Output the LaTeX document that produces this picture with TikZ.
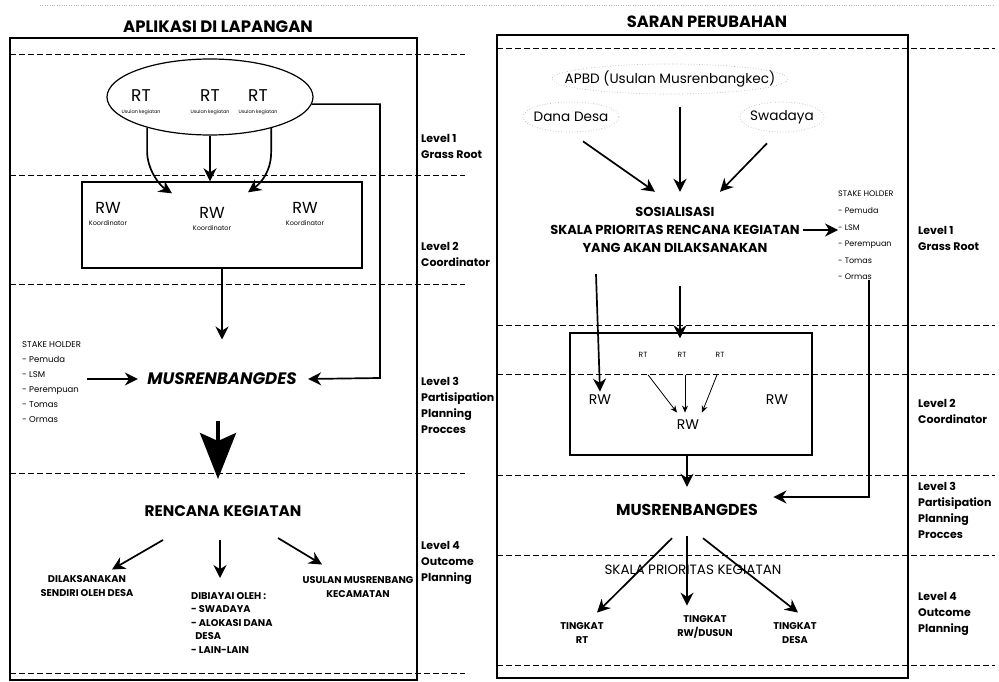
\documentclass[tikz,border=0pt]{standalone}
\usepackage{fontspec}
\setmainfont{Poppins}
\usepackage{tikz}
\usetikzlibrary{calc}
\usetikzlibrary{arrows.meta}
\usetikzlibrary{shapes.geometric}
\tikzset{
  arr/.style={line width=1.7pt, -{Stealth[length=13pt,width=13pt]}},
  thinarr/.style={line width=0.8pt, -{Stealth[length=7pt,width=6pt]}},
  bigarr/.style={line width=3.5pt, -{Stealth[length=46pt,width=36pt,inset=8pt]}},
  dashline/.style={dash pattern=on 6pt off 3pt, line width=0.8pt},
  faint/.style={draw=gray!55, dotted, line width=0.7pt},
  lvl/.style={anchor=north west, align=left, inner sep=0, font=\fontsize{11}{16}\selectfont\bfseries},
  stake/.style={anchor=north west, align=left, inner sep=0, font=\fontsize{8.5}{15}\selectfont},
  outc/.style={align=center, inner sep=1pt, font=\fontsize{9.8}{13.5}\selectfont\bfseries},
}

\begin{document}
\begin{tikzpicture}[x=1pt, y=-1pt]
\useasboundingbox (0,0) rectangle (999,682);
\draw[gray!60, dotted] (40,5) -- (995,5);

\node[font=\fontsize{16.5}{18}\selectfont\bfseries] (titleL) at (218,27) {APLIKASI DI LAPANGAN};
\draw[line width=1.8pt] (10,38) rectangle (417,680);
\foreach \y in {54,175,284,473,673}
  \draw[dashline] (10,\y) -- (465,\y);

\node[lvl] (lvlL1) at (421,134) {Level 1\\Grass Root};
\node[lvl] (lvlL2) at (421,242) {Level 2\\Coordinator};
\node[lvl] (lvlL3) at (421,377) {Level 3\\Partisipation\\Planning\\Procces};
\node[lvl] (lvlL4) at (421,541) {Level 4\\Outcome\\Planning};

\node[draw, ellipse, line width=1.2pt, minimum width=206pt, minimum height=76pt] (rtset) at (210,97) {};
\foreach \x/\n in {141/1,210/2,258/3}
  \node[align=center, inner sep=0] (rt\n) at (\x,102) {\fontsize{17}{15}\selectfont RT\\\fontsize{4.8}{5}\selectfont Usulan kegiatan};

\node[draw, line width=1.4pt, minimum width=280pt, minimum height=86pt] (rwbox) at (222,225) {};
\foreach \x/\y/\n in {108/214/1,212/219/2,305/214/3}
  \node[align=center, inner sep=0] (rw\n) at (\x,\y) {\fontsize{16}{14}\selectfont RW\\\fontsize{6.5}{7}\selectfont Koordinator};

\node[font=\fontsize{16.6}{18}\selectfont\bfseries\itshape] (musL) at (222,379) {MUSRENBANGDES};
\node[stake] (stakeL) at (22,341) {STAKE HOLDER\\- Pemuda\\- LSM\\- Perempuan\\- Tomas\\- Ormas};
\node[font=\fontsize{15.3}{17}\selectfont\bfseries] (renc) at (223,511) {RENCANA KEGIATAN};

\node[outc] (out1) at (87,586) {DILAKSANAKAN\\SENDIRI OLEH DESA};
\node[outc, align=left, anchor=north west] (out2) at (190,591) {DIBIAYAI OLEH :\\- SWADAYA\\- ALOKASI DANA\\\ \ DESA\\- LAIN-LAIN};
\node[outc] (out3) at (358,587) {USULAN MUSRENBANG\\KECAMATAN};

\draw[arr] (rtset.-154) -- ++(0,24) .. controls +(0,16) and +(-14,-9) .. ($(rwbox.north)+(-50,12)$);
\draw[arr] (rtset.south) -- (rtset.south |- rwbox.north);
\draw[arr] (rtset.-27) -- ++(0,24) .. controls +(0,18) and +(14,-10) .. ($(rwbox.north)+(26,11)$);
\coordinate (bendL) at (380,378);
\draw[arr] (rtset.-4) -| (bendL) -- ($(musL.east)+(8,0)$);
\draw[arr] (rwbox.south) -- ($(musL.north)+(0,-30)$);
\draw[arr] ($(stakeL.east |- musL)+(6,0)$) -- ($(musL.west)+(-6,0)$);
\draw[bigarr] ($(musL.south)+(-4,32)$) -- ($(renc.north)+(-5,-23)$);
\draw[arr] ($(renc.south)+(-60,20)$) -- ($(out1.north)+(25,-5)$);
\draw[arr] ($(renc.south)+(-3,20)$) -- ($(out2.north west)+(30,-13)$);
\draw[arr] ($(renc.south)+(55,18)$) -- ($(out3.north)+(-36,-11)$);

\node[font=\fontsize{16.3}{18}\selectfont\bfseries] (titleR) at (707,22) {SARAN PERUBAHAN};
\draw[line width=1.8pt] (497,35) rectangle (908,678);
\foreach \y in {48,325,374,475,555,665}
  \draw[dashline] (497,\y) -- (995,\y);

\node[lvl] (lvlR1) at (918,226) {Level 1\\Grass Root};
\node[lvl] (lvlR2) at (918,399) {Level 2\\Coordinator};
\node[lvl] (lvlR3) at (918,482) {Level 3\\Partisipation\\Planning\\Procces};
\node[lvl] (lvlR4) at (918,592) {Level 4\\Outcome\\Planning};

\node[font=\fontsize{13.6}{15}\selectfont] (apbd) at (670,79) {APBD (Usulan Musrenbangkec)};
\node[font=\fontsize{13.6}{15}\selectfont] (dana) at (571,117) {Dana Desa};
\node[font=\fontsize{13.6}{15}\selectfont] (swad) at (782,117) {Swadaya};
\foreach \n/\a/\b in {apbd/118/15,dana/48/15,swad/42/15}
  \draw[faint] (\n) ellipse [x radius=\a, y radius=\b];

\node[align=center, font=\fontsize{13}{18}\selectfont\bfseries] (sos) at (675,230) {SOSIALISASI\\SKALA PRIORITAS RENCANA KEGIATAN\\YANG AKAN DILAKSANAKAN};
\node[stake, font=\fontsize{8}{16.6}\selectfont] (stakeR) at (838,191) {STAKE HOLDER\\- Pemuda\\- LSM\\- Perempuan\\- Tomas\\- Ormas};
\coordinate (sosTop) at ($(sos.north)+(5,-12)$);

\draw[arr] ($(dana.south)+(12,16)$) -- ($(sosTop)+(-25,0)$);
\draw[arr] ($(apbd.south)+(10,16)$) -- (sosTop);
\draw[arr] ($(swad.south)+(-15,16)$) -- ($(sosTop)+(40,0)$);
\draw[arr] (sos.east) -- (sos.east -| stakeR.west);

\node[draw, line width=1.4pt, minimum width=242pt, minimum height=122pt] (rwboxR) at (691,394) {};
\foreach \x/\n in {643/1,682/2,720/3}
  \node[font=\fontsize{7.5}{8}\selectfont, inner sep=1pt] (rtR\n) at (\x,355) {RT};
\foreach \x/\y/\n in {600/400/1,688/425/2,777/400/3}
  \node[font=\fontsize{14}{15}\selectfont] (rwR\n) at (\x,\y) {RW};

\draw[arr] ($(sos.south -| rwR1)+(-4,18)$) -- (rwR1.north);
\draw[arr] ($(sos.south)+(5,30)$) -- ($(rwboxR.north)+(-11,6)$);
\draw[thinarr] ($(rtR1.south)+(5,16)$) -- ($(rwR2.north)+(-11,-4)$);
\draw[thinarr] ($(rtR2.south)+(3,16)$) -- ($(rwR2.north)+(-3,-4)$);
\draw[thinarr] ($(rtR3.south)+(-3,16)$) -- ($(rwR2.north)+(14,-4)$);

\node[font=\fontsize{15.8}{17}\selectfont\bfseries] (musR) at (687,510) {MUSRENBANGDES};
\draw[arr] (rwboxR.south -| musR) -- ($(musR.north)+(0,-14)$);
\coordinate (bendR) at (869,497);
\draw[arr] (stakeR.south -| bendR) -- (bendR) -- ($(bendR -| musR.east)+(12,0)$);

\node[font=\fontsize{13.5}{14}\selectfont] (skala) at (693,570) {SKALA PRIORITAS KEGIATAN};
\node[outc] (tRT) at (582,633) {TINGKAT\\RT};
\node[outc] (tRW) at (705,627) {TINGKAT\\RW/DUSUN};
\node[outc] (tDS) at (795,633) {TINGKAT\\DESA};

\draw[arr] ($(musR.south)+(-15,19)$) -- ($(tRT.north)+(15,-9)$);
\draw[arr] ($(musR.south)+(0,17)$) -- ($(tRW.north)+(-18,-9)$);
\draw[arr] ($(musR.south)+(16,19)$) -- ($(tDS.north)+(3,-9)$);
\end{tikzpicture}
\end{document}
